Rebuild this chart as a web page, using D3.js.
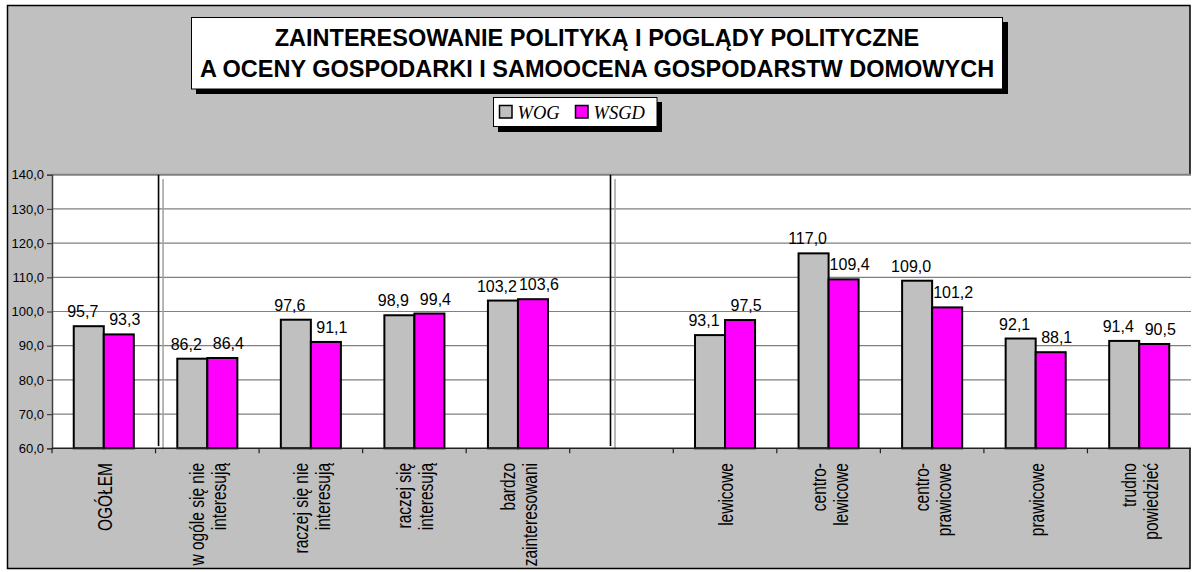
<!DOCTYPE html>
<html><head><meta charset="utf-8">
<script src="https://cdn.jsdelivr.net/npm/d3@7"></script>
<style>body{margin:0;background:#fff;overflow:hidden}</style>
</head><body><svg id="c" width="1192" height="572"></svg>
<script>
// ---- data ----
const categories = ["OGÓŁEM","w ogóle się nie\ninteresują","raczej się nie\ninteresują","raczej się\ninteresują","bardzo\nzainteresowani"," ","lewicowe","centro-\nlewicowe","centro-\nprawicowe","prawicowe","trudno\npowiedzieć"];
const seriesNames = ["WOG","WSGD"];
const wog  = [95.7, 86.2, 97.6, 98.9, 103.2, null, 93.1, 117.0, 109.0, 92.1, 91.4];
const wsgd = [93.3, 86.4, 91.1, 99.4, 103.6, null, 97.5, 109.4, 101.2, 88.1, 90.5];
const yTicks = [60,70,80,90,100,110,120,130,140];
const titleLines = ["ZAINTERESOWANIE POLITYKĄ I POGLĄDY POLITYCZNE","A OCENY GOSPODARKI I SAMOOCENA GOSPODARSTW DOMOWYCH"];
const colors = ["#c0c0c0","#ff00ff"];

const series = [wog, wsgd];
const svg = d3.select("#c");
const FONT = "'Liberation Sans', Arial, sans-serif";
const fmt = v => d3.format(".1f")(v).replace(".", ",");

// chart background
svg.append("rect").attr("x",7.5).attr("y",5.5).attr("width",1182.5).attr("height",563)
  .attr("fill","#c0c0c0").attr("stroke","#000").attr("stroke-width",1.5);

const L = 52, R = 1191, T = 174.7, B = 448.3;
const x = d3.scaleBand().domain(categories).range([L,R]).paddingInner(0.42).paddingOuter(0.21);
const x1 = d3.scaleBand().domain(seriesNames).range([0, x.bandwidth()]);
const y = d3.scaleLinear().domain([60,140]).range([B,T]);

// plot area
svg.append("rect").attr("x",L).attr("y",T).attr("width",R-L).attr("height",B-T).attr("fill","#fff");

// gridlines
svg.append("g").selectAll("line").data(yTicks.filter(t=>t>60)).join("line")
  .attr("x1",L).attr("x2",R).attr("y1",d=>y(d)).attr("y2",d=>y(d))
  .attr("stroke","#808080").attr("stroke-width",d=>d===140?2:1.2);

// y axis
const yAxis = d3.axisLeft(y).tickValues(yTicks).tickFormat(fmt).tickSize(5).tickPadding(3);
const ga = svg.append("g").attr("transform",`translate(${L},0)`).call(yAxis);
ga.select(".domain").attr("stroke","#404040").attr("stroke-width",1.5);
ga.selectAll(".tick line").attr("stroke","#404040").attr("stroke-width",1.2);
ga.selectAll("text").attr("font-family",FONT).attr("font-size",13).attr("fill","#000");

// separators
const step = x.step();
const sep1 = L + step + 3;
const sep2 = x(" ") + x.bandwidth()/2 - 11;
[sep1, sep2].forEach(sx => {
  svg.append("line").attr("x1",sx).attr("x2",sx).attr("y1",T).attr("y2",446).attr("stroke","#000").attr("stroke-width",1.6);
  svg.append("line").attr("x1",sx+4.5).attr("x2",sx+4.5).attr("y1",179).attr("y2",450).attr("stroke","#a0a0a0").attr("stroke-width",1.5);
});

// bars
categories.forEach((c,i) => {
  seriesNames.forEach((s,j) => {
    const v = series[j][i];
    if (v == null) return;
    const bx = x(c) + x1(s);
    svg.append("rect").attr("x",bx).attr("y",y(v)).attr("width",x1.bandwidth()).attr("height",y(60)-y(v))
      .attr("fill",colors[j]).attr("stroke","#000").attr("stroke-width",2);
    svg.append("text").attr("x",bx + x1.bandwidth()/2 + (j===0?-6:6)).attr("y",y(v)-9)
      .attr("text-anchor","middle").attr("font-family",FONT).attr("font-size",16).text(fmt(v));
  });
});

// x axis line and boundary ticks
svg.append("line").attr("x1",L).attr("x2",R).attr("y1",B).attr("y2",B).attr("stroke","#202020").attr("stroke-width",1.6);
svg.append("g").selectAll("line").data(d3.range(categories.length)).join("line")
  .attr("x1",i=>L+i*step).attr("x2",i=>L+i*step).attr("y1",B).attr("y2",B+5)
  .attr("stroke","#202020").attr("stroke-width",1.2);

// category labels (rotated, glyphs taller as in the original rendering)
const SY = 1.35;
categories.forEach(c => {
  const lines = c.split("\n");
  const cx = x(c) + x.bandwidth()/2;
  const t = svg.append("text").attr("transform",`translate(${cx},463) rotate(-90) scale(1,${SY})`)
    .attr("text-anchor","end").attr("font-family",FONT).attr("font-size",15.5);
  lines.forEach((ln,k) => {
    t.append("tspan").attr("x",0).attr("y", (8 - (lines.length-1)*11 + k*22)/SY).text(ln);
  });
});

// title box
svg.append("rect").attr("x",196).attr("y",22).attr("width",812).attr("height",72).attr("fill","#000");
svg.append("rect").attr("x",191.5).attr("y",17.5).attr("width",811).attr("height",71.5).attr("fill","#fff").attr("stroke","#000").attr("stroke-width",1);
titleLines.forEach((ln,k) => {
  svg.append("text").attr("x",597).attr("y",46 + k*30.5).attr("text-anchor","middle")
    .attr("font-family",FONT).attr("font-weight","bold").attr("font-size",23.5).text(ln);
});

// legend
svg.append("rect").attr("x",498).attr("y",102).attr("width",164).attr("height",30).attr("fill","#000");
svg.append("rect").attr("x",493.5).attr("y",97.5).attr("width",163.5).attr("height",29).attr("fill","#fff").attr("stroke","#000").attr("stroke-width",1);
const legX = [499.5, 575.5];
seriesNames.forEach((s,j) => {
  svg.append("rect").attr("x",legX[j]).attr("y",105.5).attr("width",12.5).attr("height",12.5)
    .attr("fill",colors[j]).attr("stroke","#000").attr("stroke-width",1.5);
  svg.append("text").attr("x",legX[j]+18).attr("y",118.5)
    .attr("font-family","'Liberation Serif','Times New Roman',serif").attr("font-style","italic").attr("font-size",18.5).text(s);
});
</script>
</body></html>
